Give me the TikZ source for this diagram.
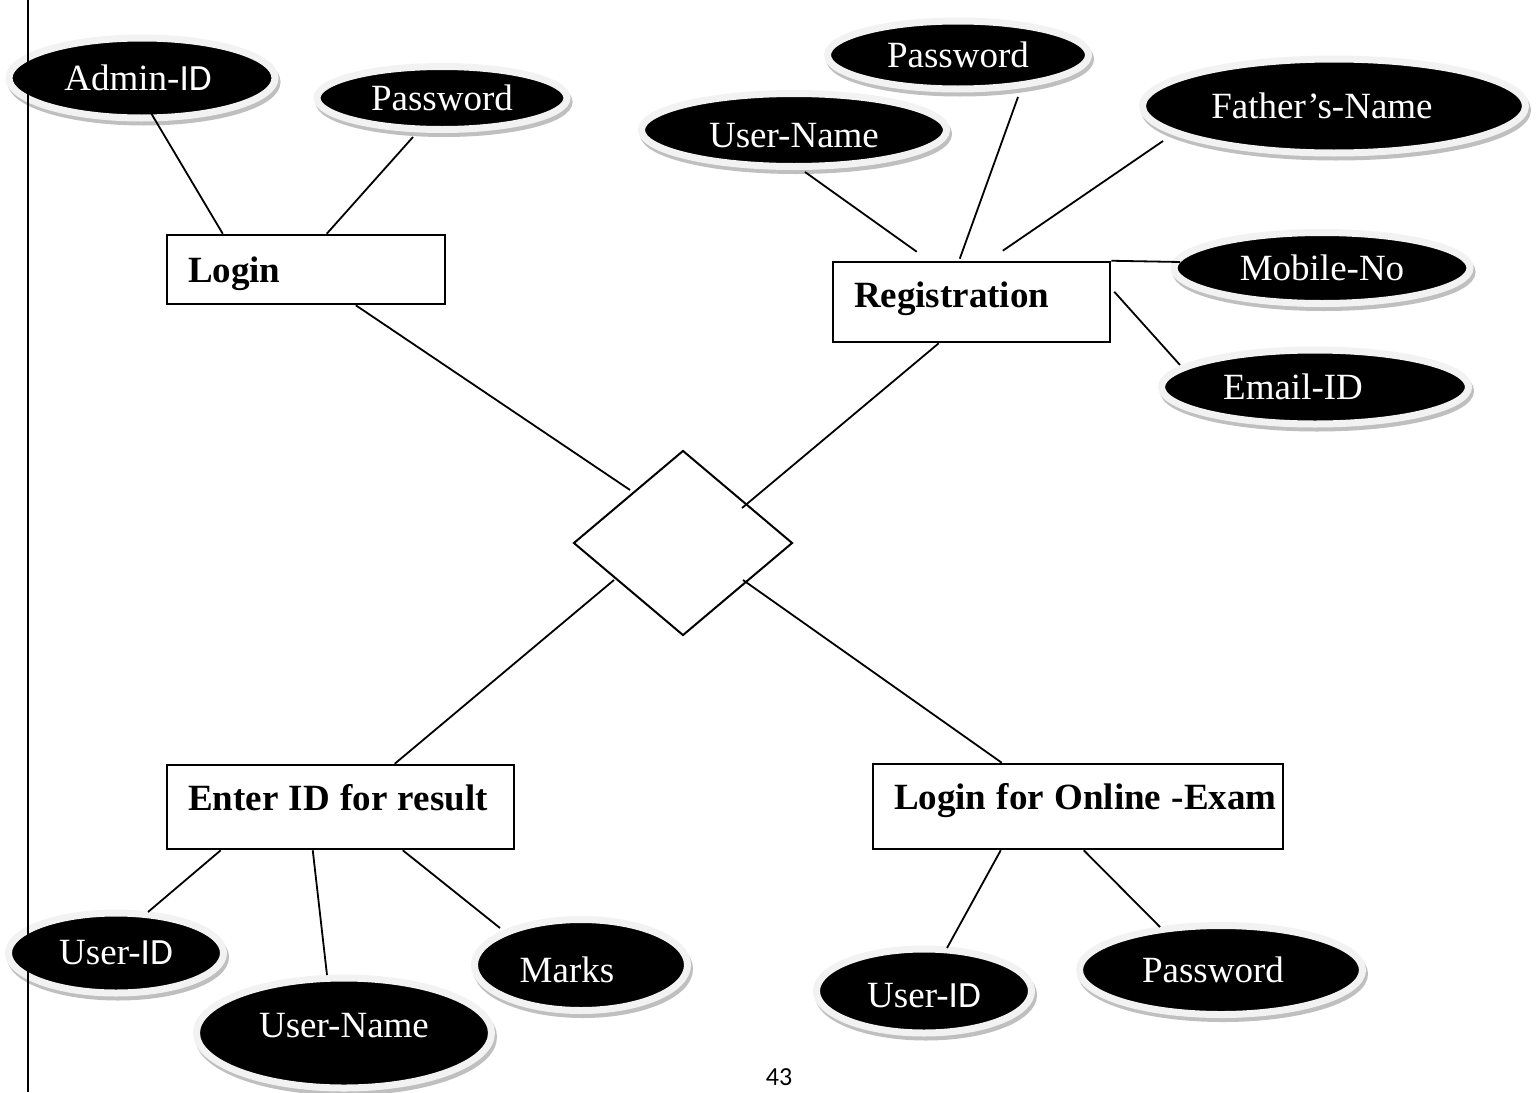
\documentclass[tikz,border=0pt]{standalone}
\usepackage{fontspec}
\setmainfont{Liberation Serif}
\newfontfamily\calib{Carlito}
\usetikzlibrary{shapes.geometric,shadows,calc}
\newcommand{\boxlabel}[1]{\makebox[\linewidth][l]{\spaceskip=0.28em\relax #1}}
\begin{document}
\begin{tikzpicture}[x=1pt,y=-1pt,
  attr/.style={ellipse, fill=black, draw=gray!10, line width=7pt, text=white,
    inner sep=0pt, font=\fontsize{37}{40}\selectfont,
    drop shadow={shadow xshift=2pt, shadow yshift=-4pt, fill=gray!50,
      draw=gray!50, line width=7pt, opacity=1}},
  ent/.style={rectangle, draw=black, line width=2.5pt, fill=white, align=left,
    inner xsep=21pt, inner ysep=0pt, font=\bfseries\fontsize{37}{40}\selectfont,
    text height=25pt},
  rel/.style={diamond, draw=black, line width=2pt, fill=white, inner sep=0pt,
    minimum width=219pt, minimum height=185pt},
  conn/.style={line width=1.8pt},
  border/.style={line width=2.6pt}]
\useasboundingbox (0,0) rectangle (1536,1092);

% entities
\node[ent, text width=236pt, text depth=0pt, minimum height=69pt] (login) at (306,269.5) {\boxlabel{Login}};
\node[ent, text width=235pt, text depth=15pt, minimum height=80pt] (reg) at (971.5,302) {\boxlabel{Registration}};
\node[ent, text width=305pt, text depth=19pt, minimum height=84pt] (enter) at (340.5,807) {\boxlabel{Enter ID for result}};
\node[ent, text width=368pt, text depth=19pt, minimum height=85pt] (online) at (1078,806.5) {\boxlabel{Login for Online -Exam}};

% relationship
\node[rel] (dia) at (683,543) {};

% attributes
\node[attr, minimum width=266pt, minimum height=80pt] (adminid) at (142,78) {\hspace*{-8pt}Admin-{\calib ID}};
\node[attr, minimum width=250pt, minimum height=63pt] (passL) at (442,98) {Password};
\node[attr, minimum width=261pt, minimum height=68pt] (passR) at (958,55) {Password};
\node[attr, minimum width=305pt, minimum height=73pt, text height=34pt, text depth=0pt] (userR) at (794,130) {User-Name};
\node[attr, minimum width=383pt, minimum height=94pt] (father) at (1334,106) {\hspace*{-24pt}Father’s-Name};
\node[attr, minimum width=296pt, minimum height=71pt] (mobile) at (1322,268) {Mobile-No};
\node[attr, minimum width=307pt, minimum height=74pt] (email) at (1315,387) {\hspace*{-44pt}Email-ID};
\node[attr, minimum width=215pt, minimum height=80pt] (useridL) at (116,953) {User-{\calib ID}};
\node[attr, minimum width=295pt, minimum height=110pt, text depth=16pt] (usernameB) at (344,1033) {User-Name};
\node[attr, minimum width=213pt, minimum height=91pt, text height=34pt, text depth=0pt] (marks) at (581,965) {\hspace*{-28pt}Marks};
\node[attr, minimum width=215pt, minimum height=84pt, text height=32pt, text depth=0pt] (useridR) at (924,991) {User-{\calib ID}};
\node[attr, minimum width=283pt, minimum height=89pt] (passBR) at (1221,970) {\hspace*{-16pt}Password};

% connectors
\draw[conn] ($(adminid.center)+(6,30)$) -- ($(login.north west)+(57,0)$);
\draw[conn] ($(passL.center)+(-29,39)$) -- ($(login.north west)+(161,0)$);
\draw[conn] ($(login.south west)+(190,0)$) -- ($(dia.center)+(-53,-53)$);
\draw[conn] ($(reg.south west)+(107,0)$) -- ($(dia.center)+(59,-35)$);
\draw[conn] ($(dia.center)+(-69,37)$) -- ($(enter.north west)+(229,0)$);
\draw[conn] ($(dia.center)+(60,37)$) -- ($(online.north west)+(130,0)$);
\draw[conn] ($(userR.center)+(11,42)$) -- ($(reg.north west)+(85,-9)$);
\draw[conn] ($(passR.center)+(60,42)$) -- ($(reg.north west)+(128,-2)$);
\draw[conn] ($(father.center)+(-171,35)$) -- ($(reg.north west)+(171,-10)$);
\draw[conn] (reg.north east) -- ($(mobile.center)+(-142,-6)$);
\draw[conn] ($(reg.north east)+(3,31)$) -- ($(email.center)+(-135,-22)$);
\draw[conn] ($(enter.south west)+(55,0)$) -- ($(useridL.center)+(32,-41)$);
\draw[conn] ($(enter.south west)+(147,0)$) -- ($(usernameB.center)+(-17,-58)$);
\draw[conn] ($(enter.south west)+(237,0)$) -- ($(marks.center)+(-81,-37)$);
\draw[conn] ($(online.south west)+(129,0)$) -- ($(useridR.center)+(23,-43)$);
\draw[conn] ($(online.south west)+(212,0)$) -- ($(passBR.center)+(-61,-43)$);

% page number and margin line
\node[anchor=base, font=\calib\fontsize{26}{28}\selectfont, inner sep=0pt] (pg) at (779,1085) {43};
\coordinate (btop) at (28,0);
\coordinate (bbot) at (28,1092);
\draw[border] (btop) -- (bbot);
\end{tikzpicture}
\end{document}
